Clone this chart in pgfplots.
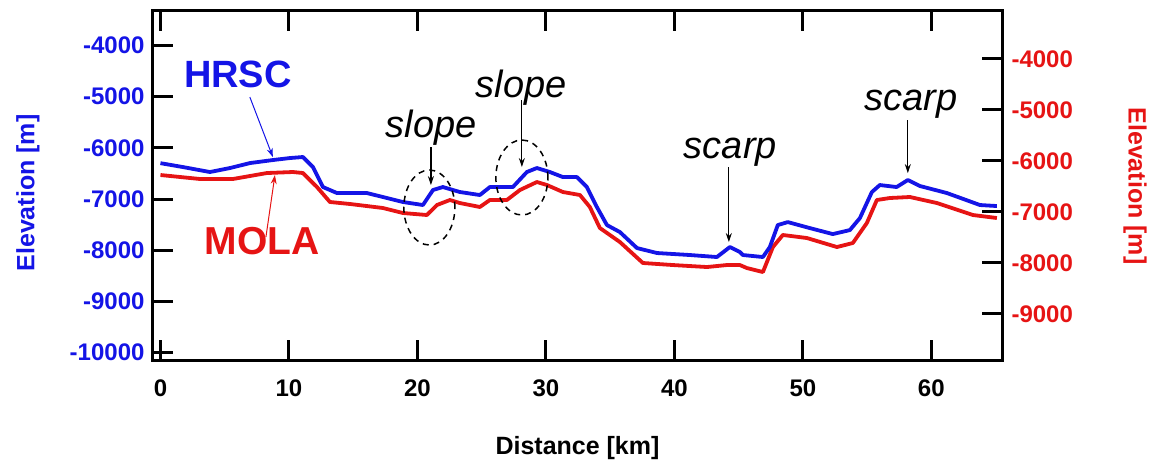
\documentclass[border=0pt]{standalone}
\usepackage{fontspec}
\setmainfont{Liberation Sans}
\usepackage{pgfplots}
\pgfplotsset{compat=1.18}
\usetikzlibrary{arrows.meta}
\definecolor{hrsc}{RGB}{20,20,230}
\definecolor{mola}{RGB}{230,20,20}

\begin{document}
\begin{tikzpicture}
\path[use as bounding box] (-153pt,-106pt) rectangle (1005pt,360pt);

% MOLA on the right-hand axis
\begin{axis}[
  scale only axis, width=849pt, height=349pt,
  xmin=-0.58, xmax=65.5, ymin=-9902, ymax=-3059,
  hide x axis, axis y line*=right,
  axis line style={line width=3pt},
  ytick={-9000,-8000,...,-4000}, scaled y ticks=false,
  tick align=inside, major tick length=20pt,
  every tick/.style={line width=3pt, black},
  yticklabel style={font=\fontsize{24}{24}\selectfont\bfseries, text=mola, xshift=6pt},
  /pgf/number format/assume math mode=true,
  /pgf/number format/1000 sep={},
  ylabel={Elevation [m]},
  every axis y label/.style={at={(axis description cs:1.1567,0.4986)}, rotate=-90, anchor=center,
    font=\fontsize{25}{25}\selectfont\bfseries, text=mola},
]
\addplot[mola, line width=3.8pt, line join=round] coordinates {
  (0.00,-6275) (3.07,-6353) (5.64,-6353) (8.29,-6236) (10.31,-6216) (11.09,-6236)
  (12.18,-6510) (13.19,-6804) (14.75,-6843) (17.32,-6922) (18.87,-7020) (20.74,-7059)
  (21.52,-6863) (22.53,-6765) (23.30,-6824) (24.86,-6902) (25.64,-6765) (26.96,-6765)
  (27.98,-6569) (29.30,-6412) (30.08,-6471) (31.32,-6608) (32.65,-6667) (33.42,-6902)
  (34.20,-7314) (35.76,-7589) (37.55,-8000) (39.88,-8040) (42.53,-8079) (44.09,-8040)
  (45.10,-8040) (45.64,-8099) (46.89,-8177) (47.67,-7687) (48.44,-7451) (50.31,-7510)
  (52.65,-7687) (53.89,-7608) (54.98,-7216) (55.76,-6765) (56.77,-6726) (58.33,-6706)
  (60.43,-6824) (63.23,-7059) (65.10,-7118)
};
\end{axis}

% HRSC on the left-hand axis, with the frame and the notes
\begin{axis}[
  scale only axis, width=849pt, height=349pt,
  xmin=-0.58, xmax=65.5, ymin=-10142, ymax=-3330,
  axis line style={line width=3pt},
  xtick={0,10,...,60}, ytick={-10000,-9000,...,-4000},
  scaled y ticks=false,
  ytick pos=left,
  tick align=inside, major tick length=20pt,
  every tick/.style={line width=3pt, black},
  xticklabel style={font=\fontsize{24}{24}\selectfont\bfseries, yshift=-16pt},
  yticklabel style={font=\fontsize{24}{24}\selectfont\bfseries, text=hrsc, xshift=-5pt},
  /pgf/number format/assume math mode=true,
  /pgf/number format/1000 sep={},
  xlabel={Distance [km]},
  every axis x label/.style={at={(axis description cs:0.5,-0.252)}, anchor=center,
    font=\fontsize{25}{25}\selectfont\bfseries},
  ylabel={Elevation [m]},
  every axis y label/.style={at={(axis description cs:-0.1472,0.4785)}, rotate=90, anchor=center,
    font=\fontsize{25}{25}\selectfont\bfseries, text=hrsc},
]
\addplot[hrsc, line width=3.8pt, line join=round] coordinates {
  (0.00,-6300) (1.75,-6376) (3.85,-6473) (5.41,-6395) (6.97,-6298) (8.75,-6239)
  (10.08,-6200) (11.09,-6180) (11.87,-6376) (12.65,-6766) (13.74,-6883) (14.75,-6883)
  (16.07,-6883) (17.32,-6961) (18.87,-7058) (20.43,-7117) (21.21,-6824) (21.98,-6766)
  (23.30,-6863) (24.86,-6922) (25.64,-6766) (27.43,-6766) (28.52,-6473) (29.30,-6395)
  (30.31,-6473) (31.32,-6571) (32.41,-6571) (33.19,-6766) (33.97,-7157) (34.75,-7508)
  (35.76,-7645) (37.09,-7957) (38.65,-8054) (41.21,-8093) (43.31,-8132) (44.32,-7937)
  (45.10,-8035) (45.33,-8093) (46.89,-8132) (47.43,-7937) (48.05,-7508) (48.83,-7450)
  (50.54,-7567) (52.33,-7684) (53.66,-7606) (54.44,-7372) (55.37,-6864) (55.99,-6727)
  (57.30,-6766) (58.17,-6629) (59.11,-6746) (61.21,-6883) (63.78,-7117) (65.10,-7137)
};

\node[anchor=base, font=\fontsize{38}{38}\selectfont\bfseries, text=hrsc] at (axis cs:6.03,-4814) {HRSC};
\draw[hrsc, line width=1pt, -{Stealth[length=9pt,width=6pt]}] (axis cs:6.96,-5011) -- (axis cs:8.75,-6182);
\node[anchor=base, font=\fontsize{39}{39}\selectfont\bfseries, text=mola] at (axis cs:7.90,-8074) {MOLA};
\draw[mola, line width=1pt, -{Stealth[length=9pt,width=6pt]}] (axis cs:8.21,-7742) -- (axis cs:8.91,-6532);

\node[anchor=base, font=\fontsize{38}{38}\selectfont\itshape] at (axis cs:21.09,-5790) {slope};
\draw[line width=1.2pt, -{Stealth[length=9pt,width=6pt]}] (axis cs:21.05,-5985) -- (axis cs:21.05,-6727);
\draw[line width=1.5pt, dash pattern=on 6pt off 5pt] (axis cs:20.93,-7166) ellipse [x radius=25.5pt, y radius=37.5pt];

\node[anchor=base, font=\fontsize{38}{38}\selectfont\itshape] at (axis cs:28.09,-5009) {slope};
\draw[line width=1.2pt, -{Stealth[length=9pt,width=6pt]}] (axis cs:28.13,-5068) -- (axis cs:28.13,-6376);
\draw[line width=1.5pt, dash pattern=on 6pt off 5pt] (axis cs:28.13,-6580) ellipse [x radius=26pt, y radius=37.5pt];

\node[anchor=base, font=\fontsize{38}{38}\selectfont\itshape] at (axis cs:44.36,-6200) {scarp};
\draw[line width=1.2pt, -{Stealth[length=9pt,width=6pt]}] (axis cs:44.24,-6376) -- (axis cs:44.24,-7840);

\node[anchor=base, font=\fontsize{38}{38}\selectfont\itshape] at (axis cs:58.40,-5263) {scarp};
\draw[line width=1.2pt, -{Stealth[length=9pt,width=6pt]}] (axis cs:58.17,-5460) -- (axis cs:58.17,-6494);
\end{axis}
\end{tikzpicture}
\end{document}
